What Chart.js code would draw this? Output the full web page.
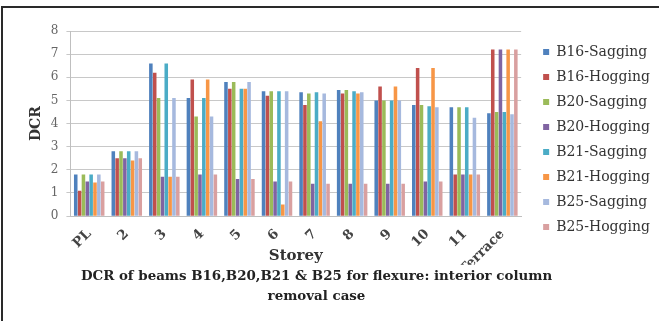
<!DOCTYPE html>
<html>
<head>
<meta charset="utf-8">
<script src="https://cdn.jsdelivr.net/npm/chart.js@4/dist/chart.umd.min.js"></script>
<style>
  html, body { margin: 0; padding: 0; background: #ffffff; }
  #wrap { position: relative; width: 659px; height: 321px; overflow: hidden; background: #fff; }
  #frame { position: absolute; left: 1px; top: 6px; width: 660px; height: 330px; border: 2px solid #2a2a2a; box-sizing: border-box; }
  #c { position: absolute; left: 0; top: 0; }
</style>
</head>
<body>
<div id="wrap">
  <div id="frame"></div>
  <canvas id="c" width="659" height="321"></canvas>
</div>
<script>
const storeys = ['PL', '2', '3', '4', '5', '6', '7', '8', '9', '10', '11', 'Terrace'];

const b16Sagging = [1.8, 2.8, 6.6, 5.1, 5.8, 5.4, 5.35, 5.45, 5.0, 4.8, 4.7, 4.45];
const b16Hogging = [1.1, 2.5, 6.2, 5.9, 5.5, 5.2, 4.8, 5.3, 5.6, 6.4, 1.8, 7.2];
const b20Sagging = [1.8, 2.8, 5.1, 4.3, 5.8, 5.4, 5.3, 5.45, 5.0, 4.8, 4.7, 4.5];
const b20Hogging = [1.5, 2.5, 1.7, 1.8, 1.6, 1.5, 1.4, 1.4, 1.4, 1.5, 1.8, 7.2];
const b21Sagging = [1.8, 2.8, 6.6, 5.1, 5.5, 5.4, 5.35, 5.4, 5.0, 4.75, 4.7, 4.5];
const b21Hogging = [1.45, 2.4, 1.7, 5.9, 5.5, 0.5, 4.1, 5.3, 5.6, 6.4, 1.8, 7.2];
const b25Sagging = [1.8, 2.8, 5.1, 4.3, 5.8, 5.4, 5.3, 5.35, 5.0, 4.7, 4.25, 4.4];
const b25Hogging = [1.5, 2.5, 1.7, 1.8, 1.6, 1.5, 1.4, 1.4, 1.4, 1.5, 1.8, 7.2];

const seriesNames = ['B16-Sagging', 'B16-Hogging', 'B20-Sagging', 'B20-Hogging', 'B21-Sagging', 'B21-Hogging', 'B25-Sagging', 'B25-Hogging'];
const seriesValues = [b16Sagging, b16Hogging, b20Sagging, b20Hogging, b21Sagging, b21Hogging, b25Sagging, b25Hogging];
const seriesColors = ['#4F81BD', '#C0504D', '#9BBB59', '#8064A2', '#4BACC6', '#F79646', '#A6B9DE', '#D9A0A0'];

const titleLines = ['DCR of beams B16,B20,B21 & B25 for flexure: interior column', 'removal case'];

const serif = "'DejaVu Serif', 'Liberation Serif', serif";

// layout nudges: move the legend block right a little and centre the bottom title like the original
const nudge = {
  id: 'nudge',
  afterLayout(chart) {
    if (chart.legend) { chart.legend.left += 11; chart.legend.right += 11; }
    if (chart.titleBlock) { chart.titleBlock.right -= 44; }
  }
};

new Chart(document.getElementById('c'), {
  type: 'bar',
  data: {
    labels: storeys,
    datasets: seriesNames.map((n, i) => ({
      label: n,
      data: seriesValues[i],
      backgroundColor: seriesColors[i],
      borderWidth: 0,
      categoryPercentage: 0.82,
      barPercentage: 0.92
    }))
  },
  plugins: [nudge],
  options: {
    responsive: false,
    animation: false,
    devicePixelRatio: 1,
    layout: { padding: { left: 28, right: 10, top: 31, bottom: 14 } },
    plugins: {
      legend: {
        position: 'right',
        align: 'start',
        title: { display: true, text: ' ', font: { size: 3, lineHeight: 1 }, padding: 0 },
        labels: {
          boxWidth: 6,
          boxHeight: 6,
          padding: 11,
          color: '#333',
          font: { family: serif, size: 14 }
        }
      },
      title: {
        display: true,
        position: 'bottom',
        text: titleLines,
        color: '#222',
        font: { family: serif, size: 13.4, weight: 'bold', lineHeight: 1.5 },
        padding: { top: 2, bottom: 0 }
      },
      tooltip: { enabled: false }
    },
    scales: {
      x: {
        grid: { display: false },
        border: { display: true, color: '#bfbfbf' },
        ticks: {
          minRotation: 45, maxRotation: 45,
          color: '#444',
          font: { family: serif, size: 13.5, weight: 'bold' },
          padding: 2
        },
        title: {
          display: true,
          text: 'Storey',
          color: '#333',
          font: { family: serif, size: 15, weight: 'bold' },
          padding: { top: -33, bottom: 0 }
        }
      },
      y: {
        min: 0,
        max: 8,
        ticks: {
          stepSize: 1,
          color: '#666',
          font: { family: serif, size: 12 },
          padding: 8
        },
        grid: { color: '#c8c8c8', tickLength: 4, drawTicks: true },
        border: { display: true, color: '#bfbfbf' },
        title: {
          display: true,
          text: 'DCR',
          color: '#333',
          font: { family: serif, size: 14, weight: 'bold' },
          padding: { top: 0, bottom: -2 }
        }
      }
    }
  }
});
</script>
</body>
</html>
